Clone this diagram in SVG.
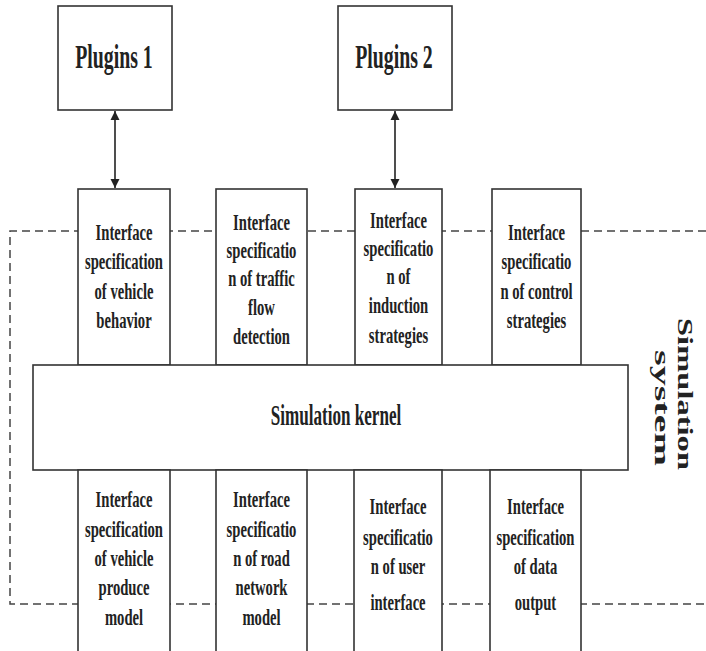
<svg xmlns="http://www.w3.org/2000/svg" width="706" height="651" viewBox="0 0 706 651">
  <style>
    .box { fill: #ffffff; stroke: #333333; stroke-width: 1.6; }
    .dash { fill: none; stroke: #444444; stroke-width: 1.5; stroke-dasharray: 8 5; }
    .lbl { font-family: "Liberation Serif", "Times New Roman", serif; font-weight: bold; font-size: 24px; fill: #222222; text-anchor: middle; }
    .big { font-family: "Liberation Serif", "Times New Roman", serif; font-weight: bold; font-size: 33px; fill: #222222; text-anchor: middle; }
    .kern { font-family: "Liberation Serif", "Times New Roman", serif; font-weight: bold; font-size: 30px; fill: #222222; text-anchor: middle; }
    .sys { font-family: "Liberation Serif", "Times New Roman", serif; font-weight: bold; font-size: 34px; fill: #222222; }
    .conn { stroke: #222222; stroke-width: 1.6; fill: none; }
  </style>
  <defs>
    <marker id="ah" viewBox="0 0 10 10" refX="10" refY="5" markerWidth="9" markerHeight="12" markerUnits="userSpaceOnUse" orient="auto-start-reverse">
      <path d="M0,0 L10,5 L0,10 Z" fill="#222222"/>
    </marker>
  </defs>

  <rect width="706" height="651" fill="#ffffff"/>

  <!-- simulation system boundary (runs off the right edge) -->
  <g id="simulation-system">
    <path class="dash" d="M706,231 H10 V604 H706"/>
    <text class="sys" transform="translate(678 318) rotate(90) scale(1 0.62)" textLength="152" lengthAdjust="spacingAndGlyphs">Simulation</text>
    <text class="sys" transform="translate(655 350) rotate(90) scale(1 0.62)" textLength="116" lengthAdjust="spacingAndGlyphs">system</text>
  </g>

  <g id="connectors">
    <line class="conn" x1="115" y1="111" x2="115" y2="188" marker-start="url(#ah)" marker-end="url(#ah)"/>
    <line class="conn" x1="395" y1="111" x2="395" y2="188" marker-start="url(#ah)" marker-end="url(#ah)"/>
  </g>

  <g id="plugins1">
    <rect class="box" x="58" y="6" width="114" height="104"/>
    <g transform="translate(114 68) scale(0.6 1)"><text class="big" x="0" y="0">Plugins 1</text></g>
  </g>
  <g id="plugins2">
    <rect class="box" x="338" y="6" width="114" height="104"/>
    <g transform="translate(394 68) scale(0.6 1)"><text class="big" x="0" y="0">Plugins 2</text></g>
  </g>

  <!-- upper interface specifications -->
  <g id="if-vehicle-behavior">
    <rect class="box" x="78" y="189" width="92" height="176"/>
    <g transform="translate(124 0) scale(0.61 1)">
      <text class="lbl" x="0" y="240">Interface</text>
      <text class="lbl" x="0" y="269">specification</text>
      <text class="lbl" x="0" y="299">of vehicle</text>
      <text class="lbl" x="0" y="328">behavior</text>
    </g>
  </g>
  <g id="if-traffic-flow">
    <rect class="box" x="216" y="189" width="91" height="176"/>
    <g transform="translate(261.5 0) scale(0.61 1)">
      <text class="lbl" x="0" y="230">Interface</text>
      <text class="lbl" x="0" y="258">specificatio</text>
      <text class="lbl" x="0" y="286">n of traffic</text>
      <text class="lbl" x="0" y="315">flow</text>
      <text class="lbl" x="0" y="344">detection</text>
    </g>
  </g>
  <g id="if-induction">
    <rect class="box" x="355" y="189" width="87" height="176"/>
    <g transform="translate(398.5 0) scale(0.61 1)">
      <text class="lbl" x="0" y="228">Interface</text>
      <text class="lbl" x="0" y="256">specificatio</text>
      <text class="lbl" x="0" y="284">n of</text>
      <text class="lbl" x="0" y="313">induction</text>
      <text class="lbl" x="0" y="343">strategies</text>
    </g>
  </g>
  <g id="if-control">
    <rect class="box" x="492" y="189" width="89" height="176"/>
    <g transform="translate(536.5 0) scale(0.61 1)">
      <text class="lbl" x="0" y="240">Interface</text>
      <text class="lbl" x="0" y="269">specificatio</text>
      <text class="lbl" x="0" y="299">n of control</text>
      <text class="lbl" x="0" y="328">strategies</text>
    </g>
  </g>

  <g id="kernel">
    <rect class="box" x="33" y="365" width="595" height="105"/>
    <g transform="translate(336 425) scale(0.57 1)"><text class="kern" x="0" y="0">Simulation kernel</text></g>
  </g>

  <!-- lower interface specifications -->
  <g id="if-vehicle-produce">
    <rect class="box" x="78" y="470" width="92" height="190"/>
    <g transform="translate(124 0) scale(0.61 1)">
      <text class="lbl" x="0" y="507">Interface</text>
      <text class="lbl" x="0" y="537">specification</text>
      <text class="lbl" x="0" y="566">of vehicle</text>
      <text class="lbl" x="0" y="595">produce</text>
      <text class="lbl" x="0" y="625">model</text>
    </g>
  </g>
  <g id="if-road-network">
    <rect class="box" x="216" y="470" width="91" height="190"/>
    <g transform="translate(261.5 0) scale(0.61 1)">
      <text class="lbl" x="0" y="507">Interface</text>
      <text class="lbl" x="0" y="537">specificatio</text>
      <text class="lbl" x="0" y="566">n  of road</text>
      <text class="lbl" x="0" y="595">network</text>
      <text class="lbl" x="0" y="625">model</text>
    </g>
  </g>
  <g id="if-user-interface">
    <rect class="box" x="354" y="470" width="88" height="190"/>
    <g transform="translate(398 0) scale(0.61 1)">
      <text class="lbl" x="0" y="514">Interface</text>
      <text class="lbl" x="0" y="545">specificatio</text>
      <text class="lbl" x="0" y="574">n  of user</text>
      <text class="lbl" x="0" y="610">interface</text>
    </g>
  </g>
  <g id="if-data-output">
    <rect class="box" x="490" y="470" width="91" height="190"/>
    <g transform="translate(535.5 0) scale(0.61 1)">
      <text class="lbl" x="0" y="514">Interface</text>
      <text class="lbl" x="0" y="545">specification</text>
      <text class="lbl" x="0" y="574">of data</text>
      <text class="lbl" x="0" y="610">output</text>
    </g>
  </g>
</svg>
